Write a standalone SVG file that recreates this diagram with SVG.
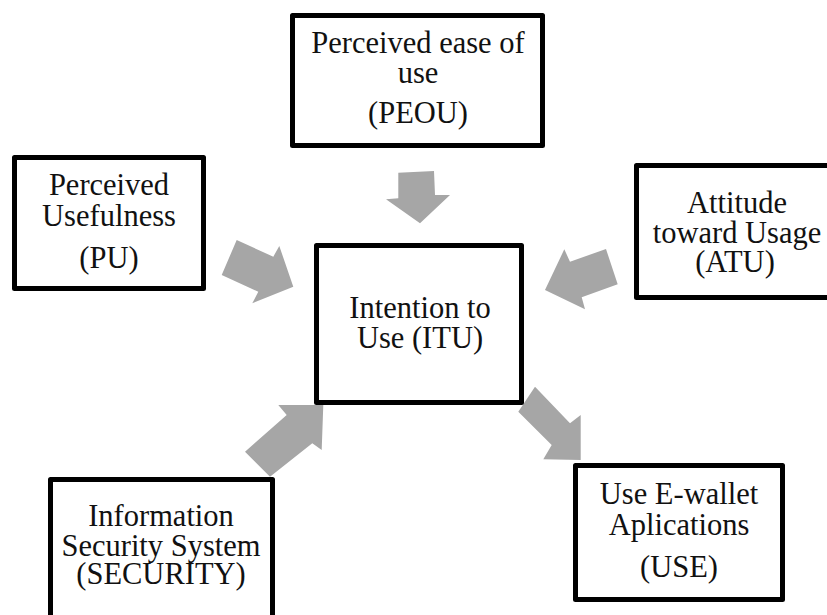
<svg xmlns="http://www.w3.org/2000/svg" width="827" height="615" viewBox="0 0 827 615">
<style>
.box{fill:#fff;stroke:#000;stroke-width:5;stroke-linejoin:round}
.t{font-family:"Liberation Serif","Times New Roman",serif;font-size:30.5px;fill:#111;text-anchor:middle}
.arr{fill:#a6a6a6;stroke:none}
</style>
<rect width="827" height="615" fill="#fff"/>
<g id="connectors">
<polygon class="arr" points="398.3,172.7 434,171 435,195 450,195 420,223.3 386,199.3 398.3,198.3"/>
<polygon class="arr" points="236.7,240 273.3,256.7 279.3,246 293.3,286.7 252.3,303.3 258.3,291.7 221.7,275"/>
<polygon class="arr" points="606,249 570,261.7 564.3,249.3 545,290 585,309.3 581.7,297.3 617.7,284.3"/>
<polygon class="arr" points="245,451.7 286.7,415 278.3,405 323.3,405 321.7,450 312.3,443.3 270,476.7"/>
<polygon class="arr" points="535,386.7 570,423.3 580.7,415 580.7,460 543.3,459.3 551.7,445 518.3,411.7"/>
</g>
<g id="PEOU">
<rect class="box" x="292.5" y="15.5" width="250" height="130"/>
<text class="t" x="418" y="53">Perceived ease of</text>
<text class="t" x="418" y="83">use</text>
<text class="t" x="418" y="123">(PEOU)</text>
</g>
<g id="PU">
<rect class="box" x="14.5" y="157.5" width="189" height="131"/>
<text class="t" x="109" y="195">Perceived</text>
<text class="t" x="109" y="226">Usefulness</text>
<text class="t" x="109" y="268">(PU)</text>
</g>
<g id="ITU">
<rect class="box" x="316.5" y="245.5" width="205" height="157"/>
<text class="t" x="420" y="318">Intention to</text>
<text class="t" x="420" y="348">Use (ITU)</text>
</g>
<g id="ATU">
<rect class="box" x="636.5" y="165.5" width="200" height="132"/>
<text class="t" x="737" y="213">Attitude</text>
<text class="t" x="737" y="243">toward Usage</text>
<text class="t" x="735" y="272">(ATU)</text>
</g>
<g id="SECURITY">
<rect class="box" x="50.5" y="479.5" width="222" height="150"/>
<text class="t" x="161" y="526">Information</text>
<text class="t" x="161" y="556">Security System</text>
<text class="t" x="161" y="584">(SECURITY)</text>
</g>
<g id="USE">
<rect class="box" x="575.5" y="465.5" width="207" height="134"/>
<text class="t" x="679" y="504">Use E-wallet</text>
<text class="t" x="679" y="535">Aplications</text>
<text class="t" x="679" y="577">(USE)</text>
</g>
</svg>
